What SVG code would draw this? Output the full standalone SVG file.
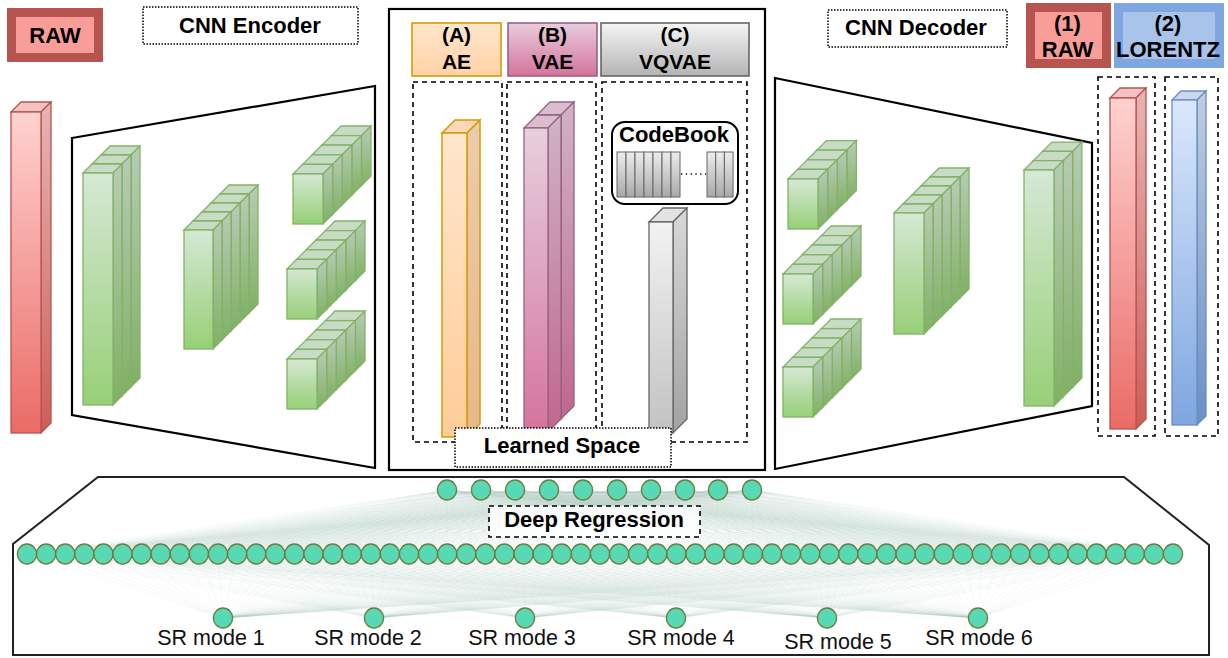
<svg xmlns="http://www.w3.org/2000/svg" width="1228" height="658" viewBox="0 0 1228 658">
<defs>
  <linearGradient id="gF" x1="0" y1="0" x2="0" y2="1"><stop offset="0" stop-color="#D5E8D4"/><stop offset="1" stop-color="#97D077"/></linearGradient>
  <linearGradient id="gS" x1="0" y1="0" x2="0" y2="1"><stop offset="0" stop-color="#B8CBB6"/><stop offset="1" stop-color="#80B065"/></linearGradient>
  <linearGradient id="rF" x1="0" y1="0" x2="0" y2="1"><stop offset="0" stop-color="#FFD2D0"/><stop offset="1" stop-color="#EA6B66"/></linearGradient>
  <linearGradient id="rS" x1="0" y1="0" x2="0" y2="1"><stop offset="0" stop-color="#E6B5B3"/><stop offset="1" stop-color="#CC5D58"/></linearGradient>
  <linearGradient id="oF" x1="0" y1="0" x2="0" y2="1"><stop offset="0" stop-color="#FFE6CC"/><stop offset="1" stop-color="#FFCC99"/></linearGradient>
  <linearGradient id="oS" x1="0" y1="0" x2="0" y2="1"><stop offset="0" stop-color="#EDCCAE"/><stop offset="1" stop-color="#E6B78A"/></linearGradient>
  <linearGradient id="pF" x1="0" y1="0" x2="0" y2="1"><stop offset="0" stop-color="#E6D0DE"/><stop offset="1" stop-color="#D5739D"/></linearGradient>
  <linearGradient id="pS" x1="0" y1="0" x2="0" y2="1"><stop offset="0" stop-color="#D0B3C4"/><stop offset="1" stop-color="#C0678E"/></linearGradient>
  <linearGradient id="yF" x1="0" y1="0" x2="0" y2="1"><stop offset="0" stop-color="#F2F2F2"/><stop offset="1" stop-color="#C2C2C2"/></linearGradient>
  <linearGradient id="yS" x1="0" y1="0" x2="0" y2="1"><stop offset="0" stop-color="#D8D8D8"/><stop offset="1" stop-color="#A2A2A2"/></linearGradient>
  <linearGradient id="bF" x1="0" y1="0" x2="0" y2="1"><stop offset="0" stop-color="#DAE8FC"/><stop offset="1" stop-color="#7EA6E0"/></linearGradient>
  <linearGradient id="bS" x1="0" y1="0" x2="0" y2="1"><stop offset="0" stop-color="#BFCDE2"/><stop offset="1" stop-color="#6A8FC5"/></linearGradient>
  <linearGradient id="hA" x1="0" y1="0" x2="0" y2="1"><stop offset="0" stop-color="#FFE6CC"/><stop offset="1" stop-color="#FFD2A6"/></linearGradient>
  <linearGradient id="hB" x1="0" y1="0" x2="0" y2="1"><stop offset="0" stop-color="#E8CCDC"/><stop offset="1" stop-color="#D5739D"/></linearGradient>
  <linearGradient id="hC" x1="0" y1="0" x2="0" y2="1"><stop offset="0" stop-color="#F5F5F5"/><stop offset="1" stop-color="#B3B3B3"/></linearGradient>
  <linearGradient id="cb" x1="0" y1="0" x2="0" y2="1"><stop offset="0" stop-color="#EDEDED"/><stop offset="1" stop-color="#A8A8A8"/></linearGradient>
  <style>
    .t{font-family:"Liberation Sans",Arial,sans-serif;font-weight:bold;font-size:22px;text-anchor:middle;fill:#000}
    .h{font-size:21px}
    .sr{font-family:"Liberation Sans",Arial,sans-serif;font-size:21.5px;text-anchor:middle;fill:#111}
    .gf{fill:url(#gF);stroke:#82B366;stroke-width:1.3}
    .gs{fill:url(#gS);stroke:#82B366;stroke-width:1.3}
    .gt{fill:#C7DBC5;stroke:#82B366;stroke-width:1.3}
    .rf{fill:url(#rF);stroke:#B85450;stroke-width:1.3}
    .rs{fill:url(#rS);stroke:#B85450;stroke-width:1.3}
    .rt{fill:#F2C3C0;stroke:#B85450;stroke-width:1.3}
    .of{fill:url(#oF);stroke:#D79B00;stroke-width:1.5}
    .os{fill:url(#oS);stroke:#D79B00;stroke-width:1.5}
    .ot{fill:#F7D8B8;stroke:#D79B00;stroke-width:1.5}
    .pf{fill:url(#pF);stroke:#996185;stroke-width:1.3}
    .ps{fill:url(#pS);stroke:#996185;stroke-width:1.3}
    .pt{fill:#D9BFCE;stroke:#996185;stroke-width:1.3}
    .yf{fill:url(#yF);stroke:#666;stroke-width:1.3}
    .ys{fill:url(#yS);stroke:#666;stroke-width:1.3}
    .yt{fill:#E3E3E3;stroke:#666;stroke-width:1.3}
    .bf{fill:url(#bF);stroke:#6C8EBF;stroke-width:1.3}
    .bs{fill:url(#bS);stroke:#6C8EBF;stroke-width:1.3}
    .bt{fill:#C9D8EE;stroke:#6C8EBF;stroke-width:1.3}
    .frame{fill:none;stroke:#000;stroke-width:2.2;stroke-linejoin:miter}
    .dash{fill:none;stroke:#000;stroke-width:1.6;stroke-dasharray:5 4}
    .dot{fill:#fff;stroke:#000;stroke-width:1.5;stroke-dasharray:1.5 1.5}
    .nd{fill:#57D9B4;stroke:#6E7D3E;stroke-width:1.4}
    .fan{fill:none;stroke:#AFC7C0;stroke-width:0.5;stroke-opacity:0.2}
    .stripe{fill:url(#cb);stroke:#666;stroke-width:1}
  </style>
  <!-- feature-map slabs: front face at origin, depth drawn up and to the right -->
  <g id="sE1"><path class="gt" d="M0 0l9-9h30l-9 9z"/><path class="gs" d="M30 0l9-9v232l-9 9z"/><rect class="gf" width="30" height="232"/></g>
  <g id="sE2"><path class="gt" d="M0 0l9-9h29l-9 9z"/><path class="gs" d="M29 0l9-9v119l-9 9z"/><rect class="gf" width="29" height="119"/></g>
  <g id="sS"><path class="gt" d="M0 0l9.6-9.6h30l-9.6 9.6z"/><path class="gs" d="M30 0l9.6-9.6v50l-9.6 9.6z"/><rect class="gf" width="30" height="50"/></g>
  <g id="sD"><path class="gt" d="M0 0l9-9h30l-9 9z"/><path class="gs" d="M30 0l9-9v121l-9 9z"/><rect class="gf" width="30" height="121"/></g>
  <g id="sL"><path class="gt" d="M0 0l9.3-9.3h30l-9.3 9.3z"/><path class="gs" d="M30 0l9.3-9.3v236l-9.3 9.3z"/><rect class="gf" width="30" height="236"/></g>
  <!-- dense-layer neuron -->
  <ellipse id="nd" class="nd" rx="9.6" ry="10"/>
  <!-- all-to-all fan: one apex at origin to every hidden-layer x position, 64 px down -->
  <path id="fan" class="fan" vector-effect="non-scaling-stroke" d="M0 0L27 64M0 0L46.1 64M0 0L65.2 64M0 0L84.3 64M0 0L103.4 64M0 0L122.5 64M0 0L141.6 64M0 0L160.7 64M0 0L179.8 64M0 0L198.9 64M0 0L218 64M0 0L237.1 64M0 0L256.2 64M0 0L275.3 64M0 0L294.4 64M0 0L313.5 64M0 0L332.6 64M0 0L351.7 64M0 0L370.8 64M0 0L389.9 64M0 0L409 64M0 0L428.1 64M0 0L447.2 64M0 0L466.3 64M0 0L485.4 64M0 0L504.5 64M0 0L523.6 64M0 0L542.7 64M0 0L561.8 64M0 0L580.9 64M0 0L600 64M0 0L619.1 64M0 0L638.2 64M0 0L657.3 64M0 0L676.4 64M0 0L695.5 64M0 0L714.6 64M0 0L733.7 64M0 0L752.8 64M0 0L771.9 64M0 0L791 64M0 0L810.1 64M0 0L829.2 64M0 0L848.3 64M0 0L867.4 64M0 0L886.5 64M0 0L905.6 64M0 0L924.7 64M0 0L943.8 64M0 0L962.9 64M0 0L982 64M0 0L1001.1 64M0 0L1020.2 64M0 0L1039.3 64M0 0L1058.4 64M0 0L1077.5 64M0 0L1096.6 64M0 0L1115.7 64M0 0L1134.8 64M0 0L1153.9 64M0 0L1173 64"/>
</defs>

<rect width="1228" height="658" fill="#fff"/>

<!-- input spectrum -->
<g id="raw-label">
  <rect x="11.5" y="12.5" width="87" height="45" fill="#F99D98" stroke="#B85450" stroke-width="9"/>
  <text class="t" x="55" y="43">RAW</text>
</g>
<g id="raw-input">
  <path class="rt" d="M11 112l10-10h30l-10 10z"/>
  <path class="rs" d="M41 112l10-10v321l-10 10z"/>
  <rect class="rf" x="11" y="112" width="30" height="321"/>
</g>

<!-- encoder -->
<g id="cnn-encoder-label">
  <rect class="dot" x="143" y="7" width="215" height="37"/>
  <text class="t" x="250" y="33">CNN Encoder</text>
</g>
<g id="cnn-encoder">
  <polygon class="frame" points="72,138 375,86 375,468 72,415"/>
  <g id="enc-block-1">
    <use href="#sE1" x="101" y="155"/><use href="#sE1" x="92" y="164"/><use href="#sE1" x="83" y="173"/>
  </g>
  <g id="enc-block-2">
    <use href="#sE2" x="220" y="194"/><use href="#sE2" x="211" y="203"/><use href="#sE2" x="202" y="212"/><use href="#sE2" x="193" y="221"/><use href="#sE2" x="184" y="230"/>
  </g>
  <g id="enc-block-3a">
    <use href="#sS" x="331.4" y="135.6"/><use href="#sS" x="321.8" y="145.2"/><use href="#sS" x="312.2" y="154.8"/><use href="#sS" x="302.6" y="164.4"/><use href="#sS" x="293" y="174"/>
  </g>
  <g id="enc-block-3b">
    <use href="#sS" x="325.4" y="230.6"/><use href="#sS" x="315.8" y="240.2"/><use href="#sS" x="306.2" y="249.8"/><use href="#sS" x="296.6" y="259.4"/><use href="#sS" x="287" y="269"/>
  </g>
  <g id="enc-block-3c">
    <use href="#sS" x="325.4" y="320.6"/><use href="#sS" x="315.8" y="330.2"/><use href="#sS" x="306.2" y="339.8"/><use href="#sS" x="296.6" y="349.4"/><use href="#sS" x="287" y="359"/>
  </g>
</g>

<!-- latent space variants -->
<g id="latent-panel">
  <rect x="389" y="9" width="376" height="461" fill="none" stroke="#000" stroke-width="2.2"/>
</g>
<g id="head-ae">
  <rect x="412" y="23" width="89" height="53" fill="url(#hA)" stroke="#D79B00" stroke-width="1.6"/>
  <text class="t h" x="456.5" y="42">(A)</text><text class="t h" x="456.5" y="69">AE</text>
</g>
<g id="head-vae">
  <rect x="508" y="23" width="89" height="53" fill="url(#hB)" stroke="#996185" stroke-width="1.6"/>
  <text class="t h" x="552.5" y="42">(B)</text><text class="t h" x="552.5" y="69">VAE</text>
</g>
<g id="head-vqvae">
  <rect x="601" y="23" width="148" height="53" fill="url(#hC)" stroke="#666" stroke-width="1.6"/>
  <text class="t h" x="675" y="42">(C)</text><text class="t h" x="675" y="69">VQVAE</text>
</g>
<g id="space-ae">
  <rect class="dash" x="413" y="82" width="89" height="360"/>
  <path class="ot" d="M442 133l13-13h25l-13 13z"/>
  <path class="os" d="M467 133l13-13v304l-13 13z"/>
  <rect class="of" x="442" y="133" width="25" height="304"/>
</g>
<g id="space-vae">
  <rect class="dash" x="507" y="82" width="89" height="360"/>
  <path class="pt" d="M537 115l13-13h24l-13 13z"/>
  <path class="ps" d="M561 115l13-13v304l-13 13z"/>
  <rect class="pf" x="537" y="115" width="24" height="304"/>
  <path class="pt" d="M524 128l13-13h24l-13 13z"/>
  <path class="ps" d="M548 128l13-13v304l-13 13z"/>
  <rect class="pf" x="524" y="128" width="24" height="304"/>
</g>
<g id="space-vqvae">
  <rect class="dash" x="602" y="82" width="145" height="360"/>
  <path class="yt" d="M649 222l14-14h24l-14 14z"/>
  <path class="ys" d="M673 222l14-14v211l-14 14z"/>
  <rect class="yf" x="649" y="222" width="24" height="211"/>
</g>
<g id="codebook">
  <rect x="612" y="122" width="126" height="82" rx="13" fill="#fff" stroke="#000" stroke-width="2"/>
  <text class="t" x="674" y="142">CodeBook</text>
  <rect class="stripe" x="617" y="152" width="9" height="45"/><rect class="stripe" x="626" y="152" width="9" height="45"/><rect class="stripe" x="635" y="152" width="9" height="45"/><rect class="stripe" x="644" y="152" width="9" height="45"/><rect class="stripe" x="653" y="152" width="9" height="45"/><rect class="stripe" x="662" y="152" width="9" height="45"/><rect class="stripe" x="671" y="152" width="9" height="45"/>
  <line x1="681" y1="174" x2="706" y2="174" stroke="#000" stroke-width="1.3" stroke-dasharray="1.3 3.5"/>
  <rect class="stripe" x="707" y="152" width="8.7" height="45"/><rect class="stripe" x="715.7" y="152" width="8.7" height="45"/><rect class="stripe" x="724.4" y="152" width="8.7" height="45"/>
</g>
<g id="learned-space">
  <rect class="dot" x="455" y="428" width="216" height="39"/>
  <text class="t" x="562" y="453">Learned Space</text>
</g>

<!-- decoder -->
<g id="cnn-decoder-label">
  <rect class="dot" x="828" y="10" width="179" height="37"/>
  <text class="t" x="916" y="35">CNN Decoder</text>
</g>
<g id="cnn-decoder">
  <polygon class="frame" points="775,78 1092,143 1092,406 775,469"/>
  <g id="dec-block-1a">
    <use href="#sS" x="816.8" y="150.2"/><use href="#sS" x="807.2" y="159.8"/><use href="#sS" x="797.6" y="169.4"/><use href="#sS" x="788" y="179"/>
  </g>
  <g id="dec-block-1b">
    <use href="#sS" x="821.4" y="235.6"/><use href="#sS" x="811.8" y="245.2"/><use href="#sS" x="802.2" y="254.8"/><use href="#sS" x="792.6" y="264.4"/><use href="#sS" x="783" y="274"/>
  </g>
  <g id="dec-block-1c">
    <use href="#sS" x="821.4" y="328.6"/><use href="#sS" x="811.8" y="338.2"/><use href="#sS" x="802.2" y="347.8"/><use href="#sS" x="792.6" y="357.4"/><use href="#sS" x="783" y="367"/>
  </g>
  <g id="dec-block-2">
    <use href="#sD" x="930" y="177"/><use href="#sD" x="921" y="186"/><use href="#sD" x="912" y="195"/><use href="#sD" x="903" y="204"/><use href="#sD" x="894" y="213"/>
  </g>
  <g id="dec-block-3">
    <use href="#sL" x="1042.6" y="151.4"/><use href="#sL" x="1033.3" y="160.7"/><use href="#sL" x="1024" y="170"/>
  </g>
</g>

<!-- reconstruction targets -->
<g id="target-raw">
  <rect x="1030.5" y="7.5" width="76" height="56" fill="#F99D98" stroke="#B85450" stroke-width="9"/>
  <text class="t" x="1067.5" y="31">(1)</text><text class="t" x="1067.5" y="57">RAW</text>
  <rect class="dash" x="1098" y="77" width="57" height="359"/>
  <path class="rt" d="M1110 98l10-10h26l-10 10z"/>
  <path class="rs" d="M1136 98l10-10v331l-10 10z"/>
  <rect class="rf" x="1110" y="98" width="26" height="331"/>
</g>
<g id="target-lorentz">
  <rect x="1118.5" y="7.5" width="101" height="56" fill="#A9C4EB" stroke="#7EA6E0" stroke-width="9"/>
  <text class="t" x="1168" y="31">(2)</text><text class="t" x="1168" y="57">LORENTZ</text>
  <rect class="dash" x="1165" y="77" width="53" height="359"/>
  <path class="bt" d="M1172 100l9-9h25l-9 9z"/>
  <path class="bs" d="M1197 100l9-9v325l-9 9z"/>
  <rect class="bf" x="1172" y="100" width="25" height="325"/>
</g>

<!-- regression head -->
<g id="regression-panel">
  <polygon points="98,477 1124,477 1209,545 1209,655 13,655 13,544" fill="#fff" stroke="#222" stroke-width="2"/>
</g>
<g id="connectors">
  <use href="#fan" transform="matrix(1 0 -6.984 1 447 490)"/>
  <use href="#fan" transform="matrix(1 0 -7.516 1 481 490)"/>
  <use href="#fan" transform="matrix(1 0 -8.047 1 515 490)"/>
  <use href="#fan" transform="matrix(1 0 -8.578 1 549 490)"/>
  <use href="#fan" transform="matrix(1 0 -9.109 1 583 490)"/>
  <use href="#fan" transform="matrix(1 0 -9.641 1 617 490)"/>
  <use href="#fan" transform="matrix(1 0 -10.172 1 651 490)"/>
  <use href="#fan" transform="matrix(1 0 -10.703 1 685 490)"/>
  <use href="#fan" transform="matrix(1 0 -11.219 1 718 490)"/>
  <use href="#fan" transform="matrix(1 0 -11.75 1 752 490)"/>
  <use href="#fan" transform="matrix(1 0 -3.484 -1 223 618)"/>
  <use href="#fan" transform="matrix(1 0 -5.844 -1 374 618)"/>
  <use href="#fan" transform="matrix(1 0 -8.203 -1 525 618)"/>
  <use href="#fan" transform="matrix(1 0 -10.563 -1 676 618)"/>
  <use href="#fan" transform="matrix(1 0 -12.922 -1 827 618)"/>
  <use href="#fan" transform="matrix(1 0 -15.281 -1 978 618)"/>
</g>
<g id="deep-regression-label">
  <rect x="489" y="506" width="211" height="31" fill="#fff" fill-opacity="0.85" stroke="#000" stroke-width="1.6" stroke-dasharray="5 4"/>
  <text class="t" x="594" y="527">Deep Regression</text>
</g>
<g id="layer-in">
  <use href="#nd" x="447" y="490"/><use href="#nd" x="481" y="490"/><use href="#nd" x="515" y="490"/><use href="#nd" x="549" y="490"/><use href="#nd" x="583" y="490"/><use href="#nd" x="617" y="490"/><use href="#nd" x="651" y="490"/><use href="#nd" x="685" y="490"/><use href="#nd" x="718" y="490"/><use href="#nd" x="752" y="490"/>
</g>
<g id="layer-hidden">
  <use href="#nd" x="27" y="554"/><use href="#nd" x="46.1" y="554"/><use href="#nd" x="65.2" y="554"/><use href="#nd" x="84.3" y="554"/><use href="#nd" x="103.4" y="554"/><use href="#nd" x="122.5" y="554"/><use href="#nd" x="141.6" y="554"/><use href="#nd" x="160.7" y="554"/><use href="#nd" x="179.8" y="554"/><use href="#nd" x="198.9" y="554"/>
  <use href="#nd" x="218" y="554"/><use href="#nd" x="237.1" y="554"/><use href="#nd" x="256.2" y="554"/><use href="#nd" x="275.3" y="554"/><use href="#nd" x="294.4" y="554"/><use href="#nd" x="313.5" y="554"/><use href="#nd" x="332.6" y="554"/><use href="#nd" x="351.7" y="554"/><use href="#nd" x="370.8" y="554"/><use href="#nd" x="389.9" y="554"/>
  <use href="#nd" x="409" y="554"/><use href="#nd" x="428.1" y="554"/><use href="#nd" x="447.2" y="554"/><use href="#nd" x="466.3" y="554"/><use href="#nd" x="485.4" y="554"/><use href="#nd" x="504.5" y="554"/><use href="#nd" x="523.6" y="554"/><use href="#nd" x="542.7" y="554"/><use href="#nd" x="561.8" y="554"/><use href="#nd" x="580.9" y="554"/>
  <use href="#nd" x="600" y="554"/><use href="#nd" x="619.1" y="554"/><use href="#nd" x="638.2" y="554"/><use href="#nd" x="657.3" y="554"/><use href="#nd" x="676.4" y="554"/><use href="#nd" x="695.5" y="554"/><use href="#nd" x="714.6" y="554"/><use href="#nd" x="733.7" y="554"/><use href="#nd" x="752.8" y="554"/><use href="#nd" x="771.9" y="554"/>
  <use href="#nd" x="791" y="554"/><use href="#nd" x="810.1" y="554"/><use href="#nd" x="829.2" y="554"/><use href="#nd" x="848.3" y="554"/><use href="#nd" x="867.4" y="554"/><use href="#nd" x="886.5" y="554"/><use href="#nd" x="905.6" y="554"/><use href="#nd" x="924.7" y="554"/><use href="#nd" x="943.8" y="554"/><use href="#nd" x="962.9" y="554"/>
  <use href="#nd" x="982" y="554"/><use href="#nd" x="1001.1" y="554"/><use href="#nd" x="1020.2" y="554"/><use href="#nd" x="1039.3" y="554"/><use href="#nd" x="1058.4" y="554"/><use href="#nd" x="1077.5" y="554"/><use href="#nd" x="1096.6" y="554"/><use href="#nd" x="1115.7" y="554"/><use href="#nd" x="1134.8" y="554"/><use href="#nd" x="1153.9" y="554"/>
  <use href="#nd" x="1173" y="554"/>
</g>
<g id="layer-out">
  <g id="sr-mode-1"><use href="#nd" x="223" y="618"/><text class="sr" x="211" y="645">SR mode 1</text></g>
  <g id="sr-mode-2"><use href="#nd" x="374" y="618"/><text class="sr" x="368" y="645">SR mode 2</text></g>
  <g id="sr-mode-3"><use href="#nd" x="525" y="618"/><text class="sr" x="522" y="645">SR mode 3</text></g>
  <g id="sr-mode-4"><use href="#nd" x="676" y="618"/><text class="sr" x="681" y="645">SR mode 4</text></g>
  <g id="sr-mode-5"><use href="#nd" x="827" y="618"/><text class="sr" x="838" y="649">SR mode 5</text></g>
  <g id="sr-mode-6"><use href="#nd" x="978" y="618"/><text class="sr" x="979" y="645">SR mode 6</text></g>
</g>
</svg>
